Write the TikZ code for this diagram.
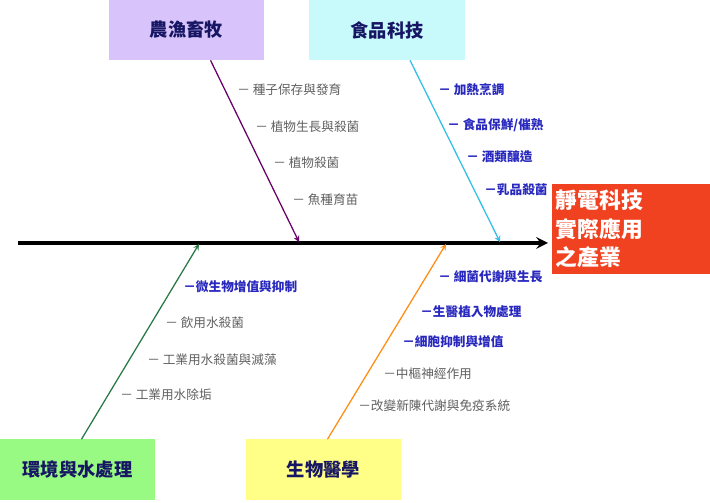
\documentclass[tikz,border=0pt]{standalone}
\usepackage{fontspec}
\setmainfont{Noto Sans CJK TC}
\usepackage{tikz}

\definecolor{lav}{RGB}{216,196,250}
\definecolor{aqua}{RGB}{200,250,252}
\definecolor{lime}{RGB}{152,250,130}
\definecolor{lemon}{RGB}{255,255,136}
\definecolor{fire}{RGB}{240,66,32}
\definecolor{navy}{RGB}{22,22,100}
\definecolor{ink}{RGB}{40,40,190}
\definecolor{ash}{RGB}{95,95,95}
\definecolor{plum}{RGB}{105,0,105}
\definecolor{sky}{RGB}{50,190,232}
\definecolor{pine}{RGB}{40,120,72}
\definecolor{amber}{RGB}{255,140,20}

\tikzset{
  cat/.style={minimum width=3.875cm,minimum height=1.5cm,inner sep=0pt,text=navy,font=\fontsize{13}{15}\selectfont\bfseries},
  gray item/.style={anchor=west,inner sep=0pt,text=ash,font=\fontsize{9}{11}\selectfont},
  blue item/.style={anchor=west,inner sep=0pt,text=ink,font=\fontsize{9}{11}\selectfont\bfseries},
  bone/.style={-stealth,line width=0.9pt}
}

\begin{document}
\begin{tikzpicture}[x=0.025cm,y=-0.025cm]
\useasboundingbox (0,0) rectangle (710,503);

% boxes
\node[cat,fill=lav] (AG) at (186.5,30) {農漁畜牧};
\node[cat,fill=aqua] (FD) at (387,30) {食品科技};
\node[cat,fill=lime] (EN) at (77.5,469.5) {環境與水處理};
\node[cat,fill=lemon] (BM) at (323.5,469.5) {生物醫學};
\node[fill=fire,text=white,align=left,text width=3.75cm,inner xsep=0.1cm,minimum height=2.25cm,font=\fontsize{15.5}{20.5}\selectfont\bfseries] (T) at (631,229) {靜電科技\\實際應用\\之產業};

% spine
\coordinate (S0) at (18,243);
\coordinate (S1) at (548,243);
\coordinate (P) at (299,242);
\coordinate (C) at (500,242);
\coordinate (G) at (199,244);
\coordinate (O) at (446,244);
\draw[-stealth,line width=2.6pt] (S0) -- (S1);

% branch starts
\coordinate (AG1) at ([xshift=0.6cm]AG.south);
\coordinate (FD1) at ([xshift=0.575cm]FD.south);
\coordinate (EN1) at ([xshift=0.1cm]EN.north);
\coordinate (BM1) at ([xshift=0.1cm]BM.north);

% branches
\draw[bone,plum] (AG1) -- (P);
\draw[bone,sky] (FD1) -- (C);
\draw[bone,pine] (EN1) -- (G);
\draw[bone,amber] (BM1) -- (O);

% items
\node[gray item] (a1) at (237,90) {－\ 種子保存與發育};
\node[gray item] (a2) at (255,127) {－\ 植物生長與殺菌};
\node[gray item] (a3) at (273,163) {－\ 植物殺菌};
\node[gray item] (a4) at (292,200) {－\ 魚種育苗};

\node[blue item] (f1) at (438,90) {－\ 加熱烹調};
\node[blue item] (f2) at (447,125) {－\ 食品保鮮/催熟};
\node[blue item] (f3) at (466,157) {－\ 酒類釀造};
\node[blue item] (f4) at (484,190) {－乳品殺菌};

\node[blue item] (e1) at (183,287) {－微生物增值與抑制};
\node[gray item] (e2) at (165,323) {－\ 飲用水殺菌};
\node[gray item] (e3) at (147,360) {－\ 工業用水殺菌與滅藻};
\node[gray item] (e4) at (120,395) {－\ 工業用水除垢};

\node[blue item] (b1) at (438,277) {－\ 細菌代謝與生長};
\node[blue item] (b2) at (420,312) {－生醫植入物處理};
\node[blue item] (b3) at (402,342) {－細胞抑制與增值};
\node[gray item] (b4) at (383,374) {－中樞神經作用};
\node[gray item] (b5) at (358,406) {－改變新陳代謝與免疫系統};
\end{tikzpicture}
\end{document}
